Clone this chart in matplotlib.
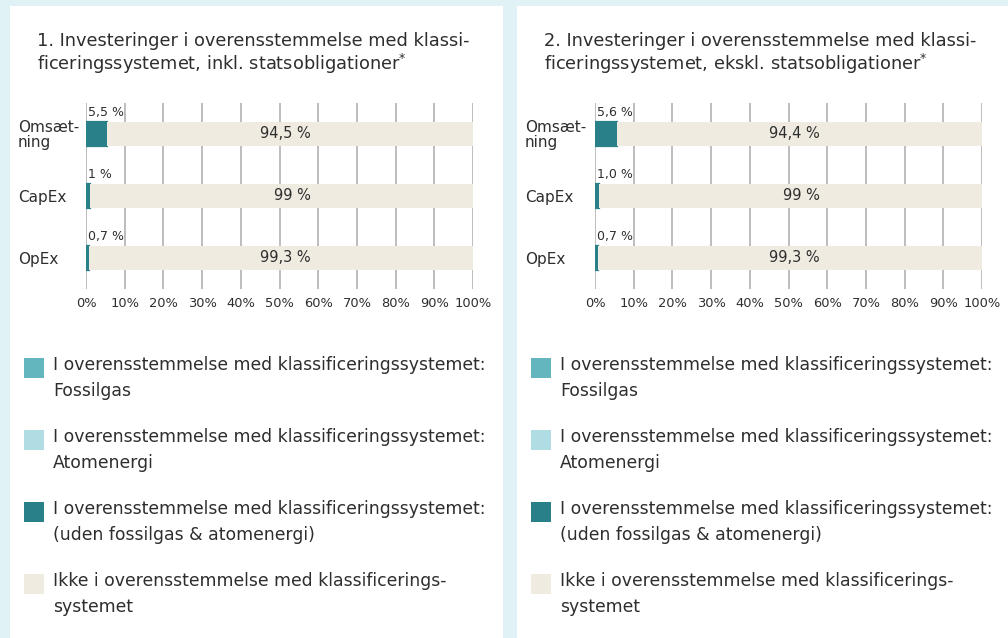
import matplotlib.pyplot as plt
from matplotlib.patches import Rectangle

# data
kategorier = ['Omsæt-\nning', 'CapEx', 'OpEx']
titler = ['1. Investeringer i overensstemmelse med klassi-\nficeringssystemet, inkl. statsobligationer$^{*}$',
          '2. Investeringer i overensstemmelse med klassi-\nficeringssystemet, ekskl. statsobligationer$^{*}$']
fossilgas = [[0, 0, 0], [0, 0, 0]]
atomenergi = [[0, 0, 0], [0, 0, 0]]
uden = [[5.5, 1.0, 0.7], [5.6, 1.0, 0.7]]
ikke = [[94.5, 99.0, 99.3], [94.4, 99.0, 99.3]]
uden_tekst = [['5,5 %', '1 %', '0,7 %'], ['5,6 %', '1,0 %', '0,7 %']]
ikke_tekst = [['94,5 %', '99 %', '99,3 %'], ['94,4 %', '99 %', '99,3 %']]
ticks = [0, 10, 20, 30, 40, 50, 60, 70, 80, 90, 100]
serier = ['I overensstemmelse med klassificeringssystemet:\nFossilgas',
          'I overensstemmelse med klassificeringssystemet:\nAtomenergi',
          'I overensstemmelse med klassificeringssystemet:\n(uden fossilgas & atomenergi)',
          'Ikke i overensstemmelse med klassificerings-\nsystemet']

farver = ['#63b6be', '#afdde3', '#2a8088', '#efebe1']
tekstfarve = '#2e2e2e'

plt.rcParams['font.family'] = ['DejaVu Sans']

W, H = 1008, 638
fig = plt.figure(figsize=(W / 100, H / 100), dpi=100)
fig.patch.set_facecolor('#e1f2f6')


def px(x, y):
    # pixel (fra top-venstre) -> figur-koordinater
    return x / W, 1 - y / H


paneler = [(10, 493), (517, 491)]
akse_x = [86, 595]

for p in range(2):
    x0, bredde = paneler[p]
    fig.patches.append(Rectangle(px(x0, 638), bredde / W, (638 - 6) / H,
                                 transform=fig.transFigure, facecolor='white',
                                 edgecolor='none', zorder=-1))
    # titel
    tx, ty = px(x0 + 27, 54)
    fig.text(tx, ty, titler[p], fontsize=12.8, color=tekstfarve, va='center',
             linespacing=1.08)

    ax = fig.add_axes([akse_x[p] / W, (638 - 289) / H, 387 / W, 186 / H])
    ax.set_zorder(2)
    ax.set_facecolor('none')
    y = range(len(kategorier))
    venstre = [0, 0, 0]
    for serie, farve in zip([fossilgas[p], atomenergi[p], uden[p], ikke[p]], farver):
        lw = 1.6 if farve == farver[2] else 0
        ax.barh(y, serie, left=venstre, height=0.4, color=farve,
                edgecolor=farve, linewidth=lw, zorder=3)
        venstre = [a + b for a, b in zip(venstre, serie)]

    for i in y:
        ax.text(0.4, i - 0.24, uden_tekst[p][i], fontsize=9, color=tekstfarve,
                ha='left', va='bottom', zorder=4)
        ax.text(58, i, ikke_tekst[p][i], fontsize=10.5, color=tekstfarve,
                ha='right', va='center', zorder=4)

    ax.set_xlim(0, 100)
    ax.set_ylim(2.5, -0.5)
    ax.set_xticks(ticks)
    ax.set_xticklabels([f'{t}%' for t in ticks], fontsize=9.4, color=tekstfarve)
    ax.set_yticks(list(y))
    ax.set_yticklabels(kategorier, fontsize=11, color=tekstfarve, linespacing=1.0)
    for lab in ax.get_yticklabels():
        lab.set_horizontalalignment('left')
        lab.set_multialignment('left')
    ax.tick_params(axis='y', length=0, pad=(akse_x[p] - x0 - 8) * 0.72)
    ax.tick_params(axis='x', length=0, pad=6)
    ax.grid(axis='x', color='#b8b8b8', linewidth=1.3, zorder=1)
    ax.set_axisbelow(True)
    for s in ax.spines.values():
        s.set_visible(False)

    # forklaring
    for k in range(len(serier)):
        top = 358 + 72 * k
        fig.patches.append(Rectangle(px(x0 + 14, top + 20), 20 / W, 20 / H,
                                     transform=fig.transFigure, facecolor=farver[k],
                                     edgecolor='none', zorder=1))
        lx, ly = px(x0 + 43, top - 2)
        fig.text(lx, ly, serier[k], fontsize=12.4, color=tekstfarve, va='top',
                 linespacing=1.55)

fig.savefig('out.png', dpi=100, facecolor=fig.get_facecolor())
